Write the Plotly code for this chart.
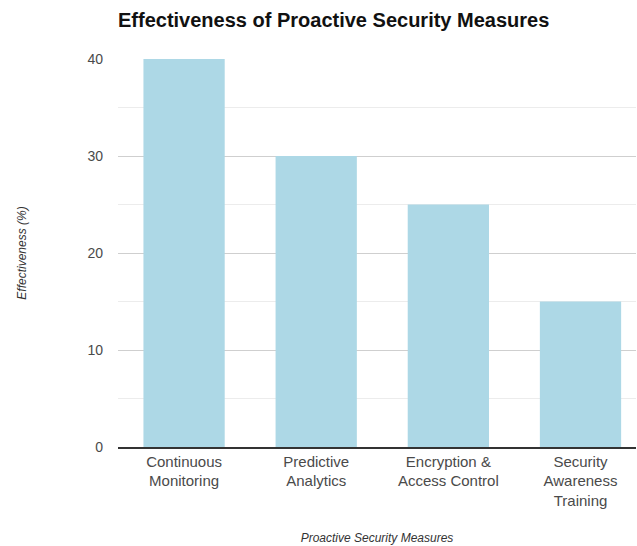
import plotly.graph_objects as go

# Chart data
measures = [
    "Continuous<br>Monitoring",
    "Predictive<br>Analytics",
    "Encryption &<br>Access Control",
    "Security<br>Awareness<br>Training",
]
effectiveness = [40, 30, 25, 15]
y_ticks = [0, 10, 20, 30, 40]

FONT = "Liberation Sans, Arial, sans-serif"

fig = go.Figure(
    go.Bar(
        x=list(range(len(measures))),
        y=effectiveness,
        marker=dict(color="#ADD8E6", line=dict(width=0)),
        width=0.615,
        hoverinfo="skip",
    )
)

fig.update_layout(
    width=637,
    height=546,
    margin=dict(l=118, r=1, t=59, b=99),
    paper_bgcolor="white",
    plot_bgcolor="white",
    showlegend=False,
    font=dict(family=FONT, color="#444"),
    title=dict(
        text="<b>Effectiveness of Proactive Security Measures</b>",
        x=118 / 637,
        xanchor="left",
        y=1 - 20 / 546,
        yanchor="middle",
        font=dict(family=FONT, size=20, color="#111"),
    ),
)

fig.update_xaxes(
    range=[-0.5, 3.42],
    tickmode="array",
    tickvals=list(range(len(measures))),
    ticktext=measures,
    tickfont=dict(family=FONT, size=15, color="#4a4a4a"),
    showgrid=False,
    showline=True,
    linecolor="#333",
    linewidth=1.5,
    ticks="",
    zeroline=False,
    title=dict(
        text="<i>Proactive Security Measures</i>",
        font=dict(family=FONT, size=12, color="#333"),
        standoff=26,
    ),
)

fig.update_yaxes(
    range=[0, 40],
    tickmode="array",
    tickvals=y_ticks,
    tickfont=dict(family=FONT, size=14, color="#4a4a4a"),
    showgrid=True,
    gridcolor="#cfcfcf",
    gridwidth=1,
    minor=dict(dtick=5, showgrid=True, gridcolor="#ececec", gridwidth=1),
    zeroline=False,
    ticks="",
    ticklabelstandoff=14,
    title=dict(
        text="<i>Effectiveness (%)</i>",
        font=dict(family=FONT, size=12, color="#333"),
        standoff=58,
    ),
)

fig.write_html("out.html", config={"displayModeBar": False})
